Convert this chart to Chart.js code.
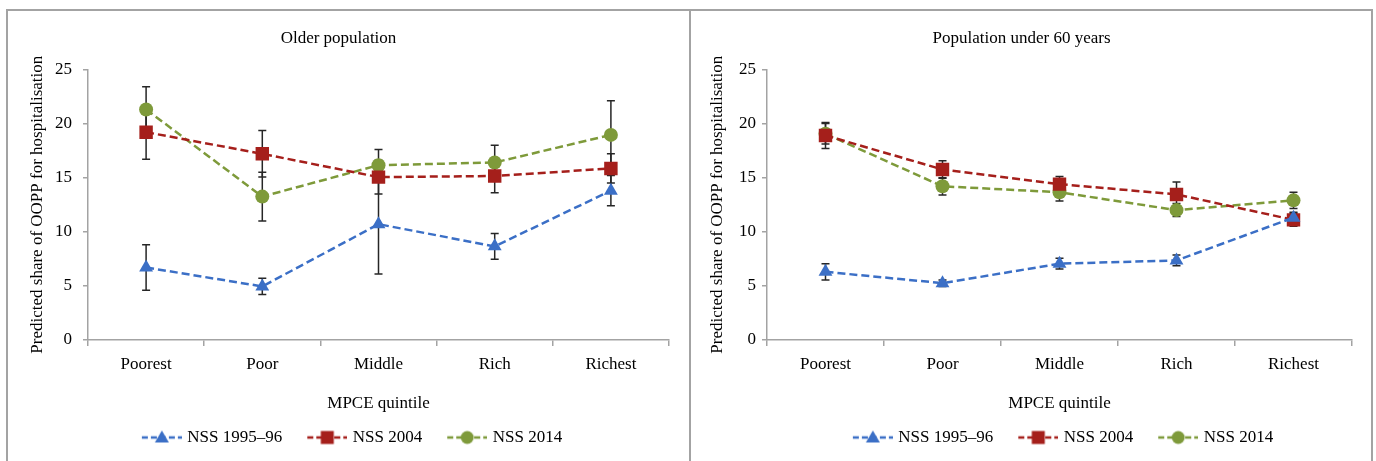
<!DOCTYPE html>
<html>
<head>
<meta charset="utf-8">
<script src="https://cdn.jsdelivr.net/npm/chart.js@4.4.1/dist/chart.umd.min.js"></script>
<style>
  body { margin: 0; background: #fff; }
  #wrap { position: absolute; left: 6px; top: 9px; width: 1363px; height: 470px; border: 2px solid #a3a3a3; display: flex; }
  #wrap canvas { display: block; }
  #left { width: 681px; border-right: 2px solid #a3a3a3; }
  #right { width: 680px; }
</style>
</head>
<body>
<div id="wrap">
  <div id="left"><canvas id="olderChart" width="681" height="445"></canvas></div>
  <div id="right"><canvas id="youngChart" width="680" height="445"></canvas></div>
</div>
<script>
const quintiles = ["Poorest", "Poor", "Middle", "Rich", "Richest"];
const seriesLabels = ["NSS 1995–96", "NSS 2004", "NSS 2014"];
const yTickValues = [0, 5, 10, 15, 20, 25];

// older population: predicted share and +/- error
const older1995 = [6.7, 4.95, 10.7, 8.65, 13.8];
const older1995Err = [2.1, 0.75, 4.6, 1.2, 1.4];
const older2004 = [19.2, 17.2, 15.05, 15.15, 15.85];
const older2004Err = [2.5, 2.15, 1.55, 1.55, 1.35];
const older2014 = [21.3, 13.25, 16.15, 16.4, 18.95];
const older2014Err = [2.1, 2.25, 1.45, 1.6, 3.15];

// population under 60 years
const young1995 = [6.3, 5.25, 7.05, 7.35, 11.3];
const young1995Err = [0.75, 0.3, 0.5, 0.5, 0.5];
const young2004 = [18.9, 15.75, 14.4, 13.45, 11.1];
const young2004Err = [1.2, 0.8, 0.7, 1.15, 0.6];
const young2014 = [19.05, 14.2, 13.65, 12.0, 12.9];
const young2014Err = [0.95, 0.8, 0.8, 0.6, 0.75];

const colors = ["#3b6fc6", "#a51f1b", "#7e9a3a"];
const shapes = ["triangle", "rect", "circle"];
const radii = [8, 9.5, 7];
const FONT = "'Liberation Serif', 'Times New Roman', serif";
const axisGray = "#a3a3a3";

Chart.defaults.font.family = FONT;
Chart.defaults.font.size = 17;
Chart.defaults.color = "#000";

function legendSymbol(color, shape) {
  const c = document.createElement("canvas");
  c.width = 58;
  c.height = 18;
  const g = c.getContext("2d");
  g.strokeStyle = color;
  g.lineWidth = 2.5;
  g.setLineDash([6, 3]);
  g.beginPath();
  g.moveTo(18, 9);
  g.lineTo(58, 9);
  g.stroke();
  g.setLineDash([]);
  g.fillStyle = color;
  const cx = 38, cy = 9;
  g.beginPath();
  if (shape === "triangle") {
    g.moveTo(cx, cy - 7);
    g.lineTo(cx + 7, cy + 5);
    g.lineTo(cx - 7, cy + 5);
    g.closePath();
  } else if (shape === "rect") {
    g.rect(cx - 6.5, cy - 6.5, 13, 13);
  } else {
    g.arc(cx, cy, 6.5, 0, Math.PI * 2);
  }
  g.fill();
  return c;
}
const legendImages = colors.map((c, i) => legendSymbol(c, shapes[i]));

const errorBars = {
  id: "errorBars",
  beforeDatasetsDraw(chart, args, opts) {
    const { ctx, scales: { x, y } } = chart;
    ctx.save();
    ctx.strokeStyle = "#262626";
    ctx.lineWidth = 1.5;
    chart.data.datasets.forEach((ds, d) => {
      ds.data.forEach((v, i) => {
        const e = opts.errors[d][i];
        const px = x.getPixelForValue(i);
        const top = y.getPixelForValue(v + e);
        const bot = y.getPixelForValue(v - e);
        ctx.beginPath();
        ctx.moveTo(px, top); ctx.lineTo(px, bot);
        ctx.moveTo(px - 4, top); ctx.lineTo(px + 4, top);
        ctx.moveTo(px - 4, bot); ctx.lineTo(px + 4, bot);
        ctx.stroke();
      });
    });
    ctx.restore();
  }
};

// nudge the legend sideways, as in the original figure
const legendShift = {
  id: "legendShift",
  afterLayout(chart, args, opts) {
    if (chart.legend) {
      chart.legend.left += opts.shift;
      chart.legend.right += opts.shift;
    }
  }
};

function makeChart(id, title, values, errors, lay) {
  const ctx = document.getElementById(id).getContext("2d");
  return new Chart(ctx, {
    type: "line",
    data: {
      labels: quintiles,
      datasets: values.map((vals, i) => ({
        label: seriesLabels[i],
        data: vals,
        borderColor: colors[i],
        backgroundColor: colors[i],
        borderWidth: 2.5,
        borderDash: [8, 4],
        tension: 0,
        pointStyle: shapes[i],
        pointRadius: radii[i],
        pointBorderWidth: 0,
        pointBackgroundColor: colors[i],
      })),
    },
    options: {
      responsive: false,
      animation: false,
      devicePixelRatio: 1,
      layout: { padding: { left: 0, right: lay.padRight, top: 0, bottom: 0 } },
      plugins: {
        title: {
          display: true,
          text: title,
          color: "#000",
          font: { size: 17, weight: "normal" },
          padding: { top: 17, bottom: 21 },
        },
        legend: {
          position: "bottom",
          labels: {
            usePointStyle: true,
            pointStyleWidth: 52,
            padding: 10,
            color: "#000",
            font: { size: 17 },
            generateLabels(chart) {
              const items = Chart.defaults.plugins.legend.labels.generateLabels(chart);
              items.forEach((it, i) => { it.pointStyle = legendImages[i]; });
              return items;
            },
          },
        },
        tooltip: { enabled: false },
        errorBars: { errors },
        legendShift: { shift: lay.legendShift },
      },
      scales: {
        x: {
          offset: true,
          grid: { display: true, drawOnChartArea: false, offset: true, tickLength: 6, color: axisGray, lineWidth: 1.5 },
          border: { color: axisGray, width: 1.5 },
          ticks: { padding: 8, color: "#000" },
          title: { display: true, text: "MPCE quintile", color: "#000", padding: { top: 0, bottom: 5 } },
          afterFit(s) { s.height = 79; },
        },
        y: {
          min: yTickValues[0],
          max: yTickValues[yTickValues.length - 1],
          ticks: { stepSize: yTickValues[1] - yTickValues[0], padding: lay.tickPad, color: "#000" },
          grid: { drawOnChartArea: false, tickLength: 5, color: axisGray, lineWidth: 1.5 },
          border: { color: axisGray, width: 1.5 },
          title: {
            display: true,
            text: "Predicted share of OOPP for hospitalisation",
            color: "#000",
            padding: { top: lay.titlePad, bottom: 0 },
          },
          afterFit(s) { s.width = lay.axisWidth; },
        },
      },
    },
    plugins: [errorBars, legendShift],
  });
}

makeChart("olderChart", "Older population",
  [older1995, older2004, older2014],
  [older1995Err, older2004Err, older2014Err],
  { padRight: 20, axisWidth: 80, tickPad: 11, titlePad: 19, legendShift: 6 });

makeChart("youngChart", "Population under 60 years",
  [young1995, young2004, young2014],
  [young1995Err, young2004Err, young2014Err],
  { padRight: 19, axisWidth: 76, tickPad: 6, titlePad: 16, legendShift: 34 });
</script>
</body>
</html>
